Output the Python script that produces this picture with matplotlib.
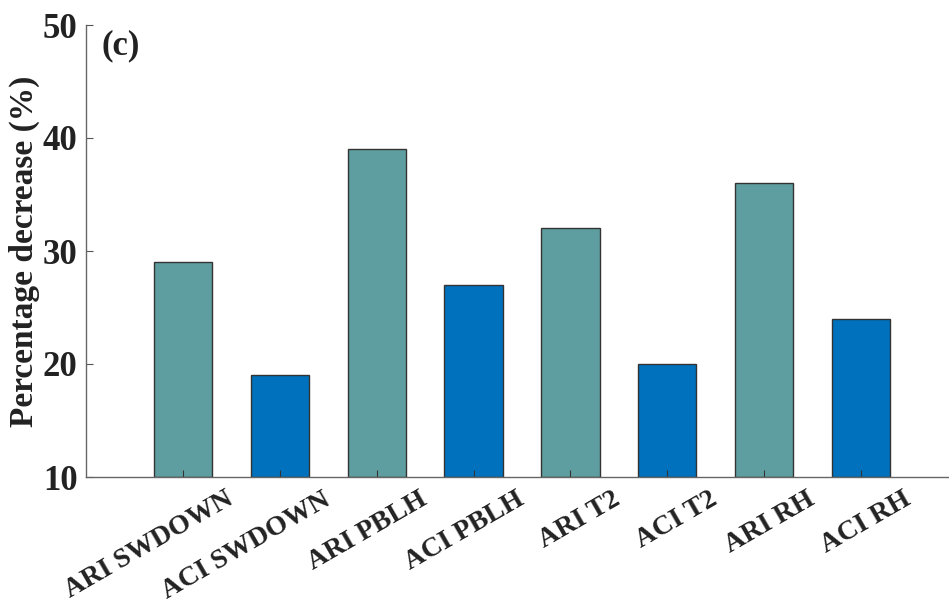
import numpy as np
import matplotlib.pyplot as plt
import matplotlib.transforms as mtransforms

categories = ["ARI SWDOWN", "ACI SWDOWN", "ARI PBLH", "ACI PBLH",
              "ARI T2", "ACI T2", "ARI RH", "ACI RH"]
values = [29, 19, 39, 27, 32, 20, 36, 24]
colors = ["#5F9EA0", "#0072BD"] * 4

plt.rcParams['font.family'] = ['Liberation Serif', 'DejaVu Serif']
plt.rcParams['font.weight'] = 'bold'

fig = plt.figure(figsize=(9.49, 6.03), dpi=100)
# axes run past the right edge like the cropped original
ax = fig.add_axes([86/949, 1 - 477/603, (958 - 86)/949, (477 - 25)/603])

x = np.arange(1, len(values) + 1)
ax.bar(x, np.array(values) - 10, bottom=10, width=0.6, color=colors,
       edgecolor="#333333", linewidth=1.0)

ax.set_xlim(0, 9)
ax.set_ylim(10, 50)
ax.set_yticks([10, 20, 30, 40, 50])
ax.set_xticks(x)
ax.set_xticklabels([])

# rotated category labels, shifted right of the tick like the original
shift = mtransforms.ScaledTranslation(42/100, -10/100, fig.dpi_scale_trans)
for xi, name in zip(x, categories):
    ax.text(xi, 0, name, transform=ax.get_xaxis_transform() + shift,
            rotation=30, ha="right", va="top", rotation_mode="anchor",
            fontsize=20, fontweight="bold", color="#222222")

ax.tick_params(axis="y", direction="in", length=5, labelsize=25, color="#555555",
               pad=6, labelcolor="#222222")
ax.tick_params(axis="x", direction="in", length=5, color="#333333")
for lab in ax.get_yticklabels():
    lab.set_fontweight("bold")

for s in ["top", "right"]:
    ax.spines[s].set_visible(False)
for s in ["left", "bottom"]:
    ax.spines[s].set_color("#666666")
    ax.spines[s].set_linewidth(1.0)

ax.set_ylabel("Percentage decrease (%)", fontsize=24, fontweight="bold",
              labelpad=2, color="#222222")
ax.text(0.16, 49.6, "(c)", fontsize=25, fontweight="bold", va="top", ha="left",
        color="#222222")

fig.savefig("out.png", dpi=100)
